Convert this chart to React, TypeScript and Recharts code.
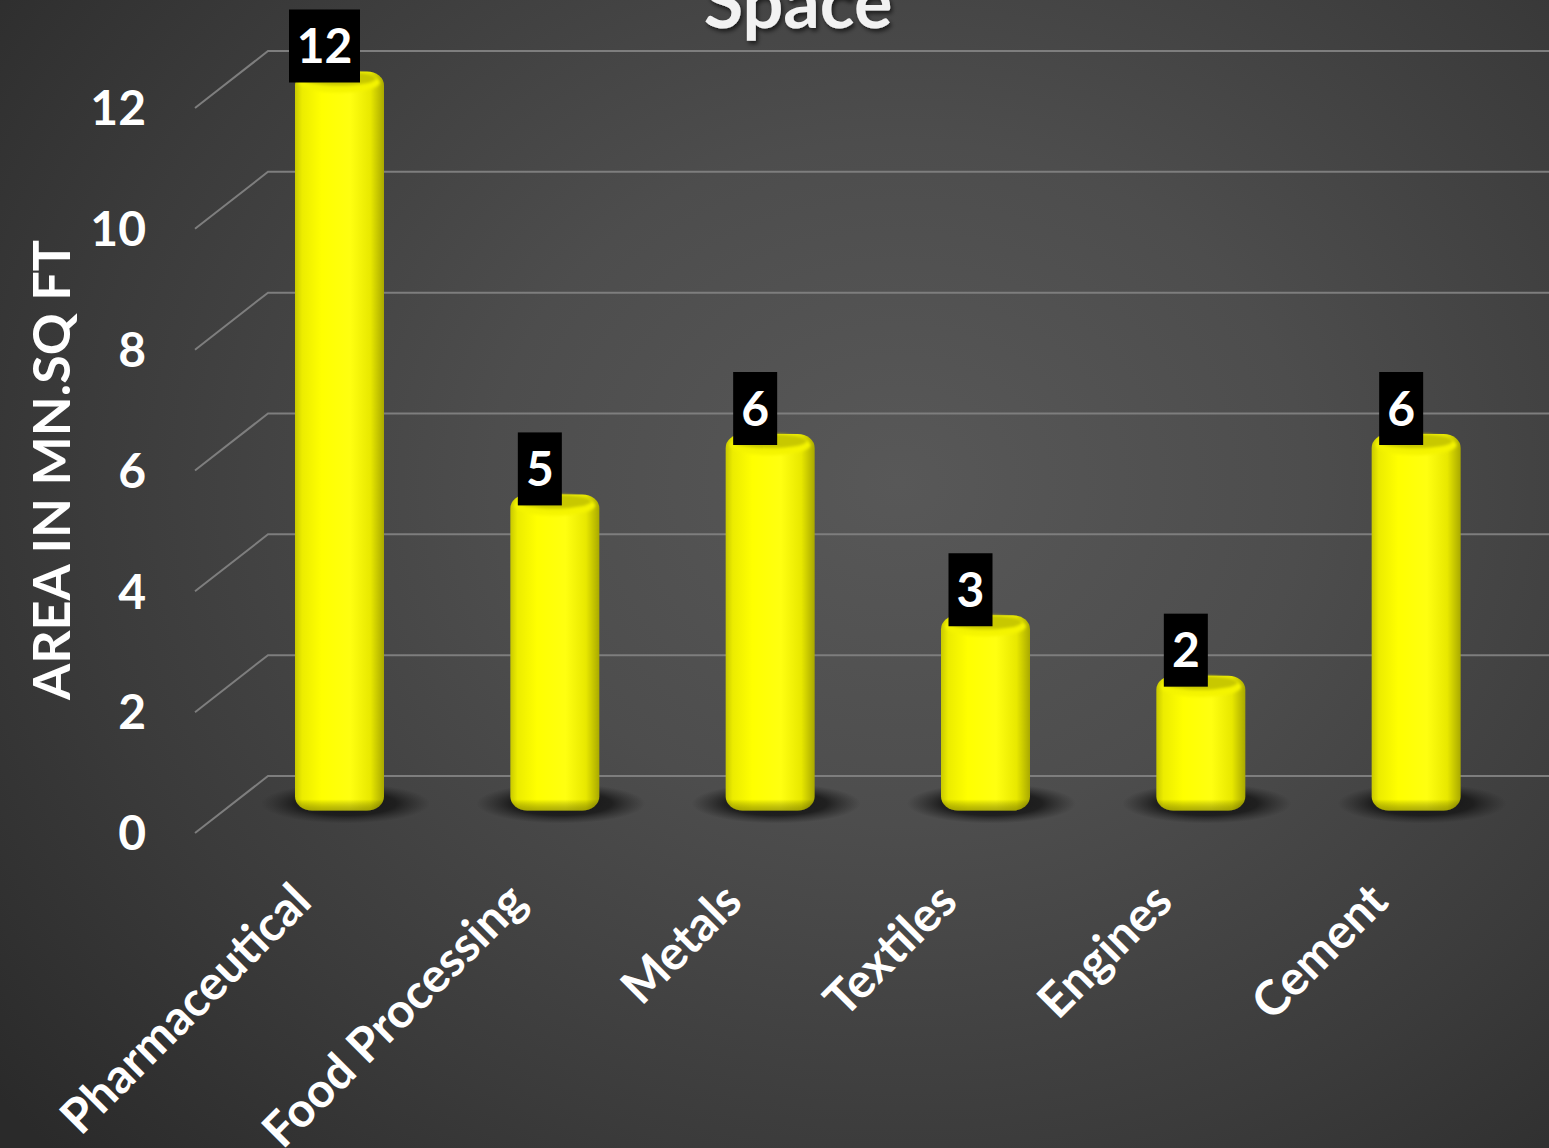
import { BarChart, Bar, XAxis, YAxis, CartesianGrid, LabelList } from 'recharts';

const categories = ['Pharmaceutical', 'Food Processing', 'Metals', 'Textiles', 'Engines', 'Cement'];
const areas = [12, 5, 6, 3, 2, 6];
const yTicks = [0, 2, 4, 6, 8, 10, 12];

const data = categories.map((name, i) => ({ name, value: areas[i] }));

const FONT = 'Lato, "Open Sans", sans-serif';
const DEPTH = 28.5; // half depth of the 3d floor

// back wall gridline + diagonal to the front edge
const renderGridLine = (p: any) => {
  const { x1, y1, x2 } = p;
  const d = `M ${x1 - 37} ${y1 + DEPTH} L ${x1 + 36} ${y1 - DEPTH} L ${x2 + 25} ${y1 - DEPTH}`;
  return <path key={p.key ?? `grid-${y1}`} d={d} stroke="#7e7e7e" strokeWidth={2} fill="none" />;
};

const YTick = ({ y, payload }: any) => (
  <text x={146} y={y + DEPTH} dy="0.36em" textAnchor="end" fill="#ffffff" fontSize={48} fontWeight={700} fontFamily={FONT}>
    {payload.value}
  </text>
);

const XTick = ({ x, payload }: any) => {
  const tx = x - 26;
  const ty = 904;
  return (
    <text x={tx} y={ty} transform={`rotate(-45, ${tx}, ${ty})`} textAnchor="end" fill="#ffffff" fontSize={48} fontWeight={700} fontFamily={FONT}>
      {payload.value}
    </text>
  );
};

// yellow cylinder with a soft floor shadow
const Cylinder = (props: any) => {
  const { x, y, width, height, index } = props;
  const cx = x + width / 2;
  const bottom = y + height;
  const id = `cyl-${index}`;
  return (
    <g>
      <defs>
        <linearGradient id={`${id}-body`} x1="0" y1="0" x2="1" y2="0">
          <stop offset="0%" stopColor="#c9c900" />
          <stop offset="8%" stopColor="#ecec00" />
          <stop offset="30%" stopColor="#ffff00" />
          <stop offset="62%" stopColor="#ffff10" />
          <stop offset="85%" stopColor="#e8e800" />
          <stop offset="100%" stopColor="#a9a900" />
        </linearGradient>
        <linearGradient id={`${id}-rim`} x1="0" y1="0" x2="0" y2="1">
          <stop offset="0%" stopColor="#000" stopOpacity={0} />
          <stop offset="60%" stopColor="#000" stopOpacity={0} />
          <stop offset="100%" stopColor="#4a4a00" stopOpacity={0.45} />
        </linearGradient>
        <radialGradient id={`${id}-shadow`} cx="0.5" cy="0.5" r="0.5">
          <stop offset="0%" stopColor="#111" stopOpacity={0.95} />
          <stop offset="60%" stopColor="#181818" stopOpacity={0.85} />
          <stop offset="100%" stopColor="#222" stopOpacity={0} />
        </radialGradient>
        <filter id={`${id}-soft`} x="-20%" y="-50%" width="140%" height="200%">
          <feGaussianBlur stdDeviation="1.5" />
        </filter>
      </defs>
      <ellipse cx={cx + 6} cy={bottom - 1} rx={width * 0.95} ry={20} fill={`url(#${id}-shadow)`} />
      <rect x={x} y={y - 8} width={width} height={height + 14} rx={17} ry={14} fill={`url(#${id}-body)`} />
      <rect x={x} y={bottom - 22} width={width} height={28} rx={17} ry={12} fill={`url(#${id}-rim)`} />
      <ellipse cx={cx} cy={y + 3} rx={width / 2 - 4} ry={10} fill="#f4f400" filter={`url(#${id}-soft)`} />
      <ellipse cx={cx} cy={y - 1} rx={width / 2 - 8} ry={7} fill="#c8c800" filter={`url(#${id}-soft)`} />
    </g>
  );
};

const ValueBox = (props: any) => {
  const { x, y, width, value } = props;
  const text = String(value);
  const w = 17 + 27 * text.length;
  const h = 73;
  const cx = x + width / 2 - 15;
  const top = y + 3 - h;
  return (
    <g>
      <rect x={cx - w / 2} y={top} width={w} height={h} fill="#000000" />
      <text x={cx} y={top + h / 2} dy="0.36em" textAnchor="middle" fill="#ffffff" fontSize={48} fontWeight={700} fontFamily={FONT}>
        {text}
      </text>
    </g>
  );
};

export default function App() {
  return (
    <div
      style={{
        position: 'absolute',
        left: 0,
        top: 0,
        width: 1549,
        height: 1148,
        overflow: 'hidden',
        background: 'radial-gradient(ellipse 75% 85% at 58% 42%, #585858 0%, #4d4d4d 35%, #3b3b3b 70%, #2a2a2a 100%)',
      }}
    >
      <BarChart width={1549} height={1148} data={data} margin={{ top: 79.5, right: 25, bottom: 283.5, left: 132 }} barSize={89}>
        <CartesianGrid vertical={false} horizontal={renderGridLine} />
        <XAxis dataKey="name" height={60} axisLine={false} tickLine={false} interval={0} tick={<XTick />} />
        <YAxis width={100} domain={[0, 12]} ticks={yTicks} axisLine={false} tickLine={false} tick={<YTick />} />
        <Bar dataKey="value" isAnimationActive={false} shape={(p: any) => <Cylinder {...p} />}>
          <LabelList dataKey="value" content={(p: any) => <ValueBox {...p} />} />
        </Bar>
      </BarChart>
      <svg width={1549} height={1148} style={{ position: 'absolute', left: 0, top: 0, pointerEvents: 'none' }}>
        <defs>
          <filter id="title-shadow" x="-20%" y="-50%" width="140%" height="200%">
            <feDropShadow dx="2" dy="3" stdDeviation="2" floodColor="#000" floodOpacity="0.6" />
          </filter>
        </defs>
        <text x={798} y={28} textAnchor="middle" fill="#f2f2f2" fontSize={72} fontWeight={700} fontFamily={FONT} filter="url(#title-shadow)">
          Space
        </text>
        <text x={70} y={470} transform="rotate(-90, 70, 470)" textAnchor="middle" fill="#ffffff" fontSize={52} fontWeight={700} fontFamily={FONT}>
          AREA IN MN.SQ FT
        </text>
      </svg>
    </div>
  );
}
